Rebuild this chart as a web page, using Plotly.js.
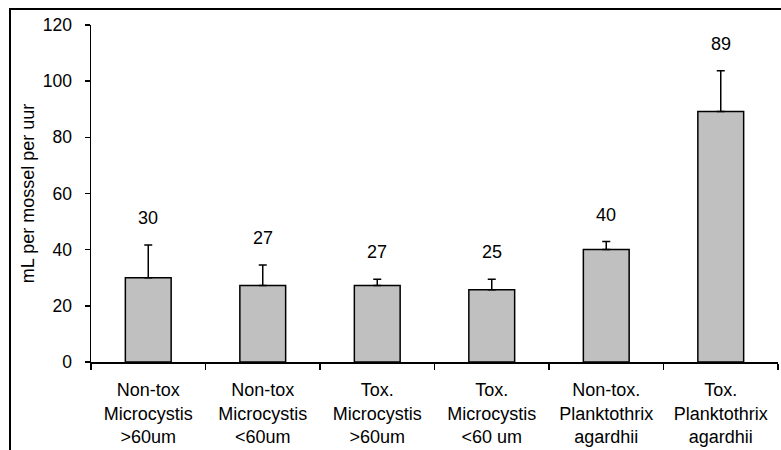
<!DOCTYPE html>
<html>
<head>
<meta charset="utf-8">
<script src="https://cdn.plot.ly/plotly-3.0.1.min.js"></script>
<style>html,body{margin:0;padding:0;background:#fff;}#chart{width:781px;height:450px;}</style>
</head>
<body>
<div id="chart"></div>
<script>
const categories = [
  "Non-tox<br>Microcystis<br>>60um",
  "Non-tox<br>Microcystis<br><60um",
  "Tox.<br>Microcystis<br>>60um",
  "Tox.<br>Microcystis<br><60 um",
  "Non-tox.<br>Planktothrix<br>agardhii",
  "Tox.<br>Planktothrix<br>agardhii"
];
const values = [30, 27.2, 27.2, 25.7, 40.1, 89.2];
const errors = [11.7, 7.3, 2.3, 3.8, 2.8, 14.5];
const labels = ["30", "27", "27", "25", "40", "89"];
const yTicks = [0, 20, 40, 60, 80, 100, 120];

const FONT = "Liberation Sans, Arial, sans-serif";

const trace = {
  type: "bar",
  x: categories,
  y: values,
  marker: {color: "#c0c0c0", line: {color: "#000", width: 1.5}},
  error_y: {type: "data", array: errors, symmetric: false, arrayminus: errors.map(() => 0),
            color: "#000", thickness: 1.5, width: 4},
  hoverinfo: "skip"
};

const annotations = categories.map((c, i) => ({
  x: c, y: values[i] + errors[i], xref: "x", yref: "y",
  text: labels[i], showarrow: false, yanchor: "middle", yshift: 27,
  font: {family: FONT, size: 18, color: "#000"}
}));

const layout = {
  width: 781, height: 450,
  margin: {l: 91, r: 3, t: 25, b: 88},
  paper_bgcolor: "#fff", plot_bgcolor: "#fff",
  showlegend: false,
  bargap: 0.6,
  font: {family: FONT, color: "#000"},
  xaxis: {
    type: "category",
    tickson: "boundaries",
    ticks: "outside", ticklen: 6, tickwidth: 1.5, tickcolor: "#000",
    showline: true, linecolor: "#000", linewidth: 1.5,
    showgrid: false, zeroline: false,
    ticklabelstandoff: 11,
    tickfont: {family: FONT, size: 18, color: "#000"},
    fixedrange: true
  },
  yaxis: {
    range: [0, 120],
    tickvals: yTicks,
    ticktext: yTicks.map(String),
    ticks: "outside", ticklen: 5, tickwidth: 1.5, tickcolor: "#000",
    showline: true, linecolor: "#000", linewidth: 1.5,
    showgrid: false, zeroline: false,
    ticklabelstandoff: 9,
    tickfont: {family: FONT, size: 17.5, color: "#000"},
    title: {text: "mL per mossel per uur", font: {family: FONT, size: 18, color: "#000"}, standoff: 3},
    fixedrange: true
  },
  annotations: annotations,
  shapes: [{
    type: "rect", xref: "paper", yref: "paper",
    x0: -0.1179, x1: 1.05, y0: -0.5, y1: 1.0475,
    line: {color: "#000", width: 2}, fillcolor: "rgba(0,0,0,0)", layer: "below"
  }]
};

Plotly.newPlot("chart", [trace], layout, {displayModeBar: false, staticPlot: true});
</script>
</body>
</html>
